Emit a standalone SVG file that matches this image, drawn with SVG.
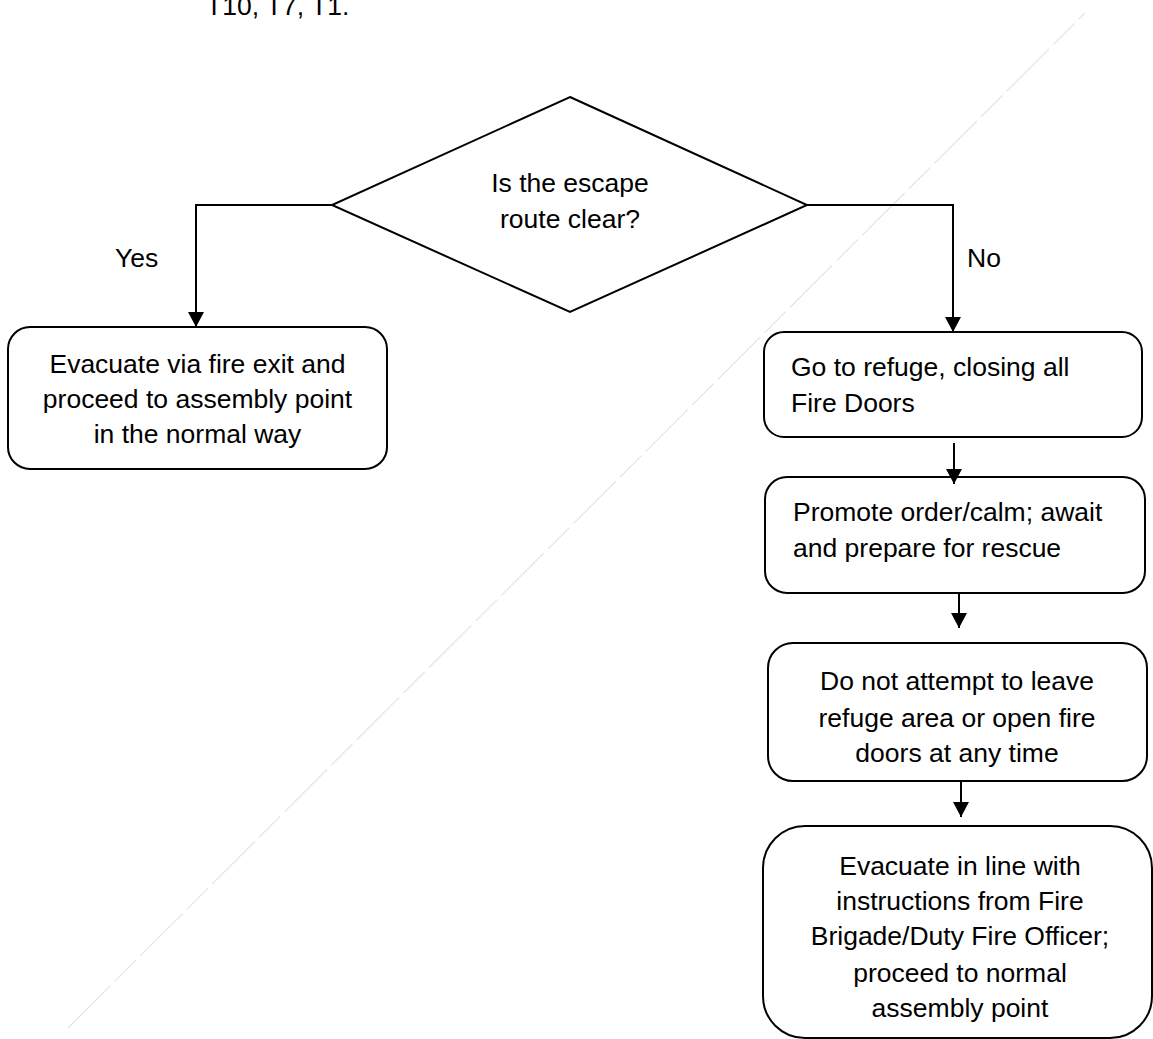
<svg xmlns="http://www.w3.org/2000/svg" width="1153" height="1039" viewBox="0 0 1153 1039">
<style>
text{font-family:"Liberation Sans",Arial,sans-serif;font-size:26.5px;fill:#000}
.c{text-anchor:middle}
.box{fill:#fff;stroke:#000;stroke-width:2}
.conn{fill:none;stroke:#000;stroke-width:2}
</style>
<defs>
<marker id="arr" markerUnits="userSpaceOnUse" markerWidth="15" markerHeight="16" viewBox="0 0 15 16" refX="15" refY="8" orient="auto">
<path d="M0,0 L15,8 L0,16 z" fill="#000"/>
</marker>
</defs>
<rect width="1153" height="1039" fill="#fff"/>
<line x1="68" y1="1028" x2="1085" y2="13" stroke="#e4e4e4" stroke-width="1.2" stroke-dasharray="60 6 30 6"/>
<text x="206" y="15">T10, T7, T1.</text>
<g id="decision">
<polygon class="box" points="570,97 807,205 570,312 332,205"/>
<text class="c" x="570" y="192">Is the escape</text>
<text class="c" x="570" y="228">route clear?</text>
</g>
<g id="evacuate-normal">
<rect class="box" x="8" y="327" width="379" height="142" rx="22"/>
<text class="c" x="197.5" y="373">Evacuate via fire exit and</text>
<text class="c" x="197.5" y="408">proceed to assembly point</text>
<text class="c" x="197.5" y="443">in the normal way</text>
</g>
<g id="go-to-refuge">
<rect class="box" x="764" y="332" width="378" height="105" rx="20"/>
<text x="791" y="376">Go to refuge, closing all</text>
<text x="791" y="412">Fire Doors</text>
</g>
<g id="promote-order">
<rect class="box" x="765" y="477" width="380" height="116" rx="22"/>
<text x="793" y="521">Promote order/calm; await</text>
<text x="793" y="557">and prepare for rescue</text>
</g>
<g id="do-not-leave">
<rect class="box" x="768" y="643" width="379" height="138" rx="25"/>
<text class="c" x="957" y="690">Do not attempt to leave</text>
<text class="c" x="957" y="727">refuge area or open fire</text>
<text class="c" x="957" y="762">doors at any time</text>
</g>
<g id="evacuate-instructions">
<rect class="box" x="763" y="826" width="389" height="212" rx="42"/>
<text class="c" x="960" y="875">Evacuate in line with</text>
<text class="c" x="960" y="910">instructions from Fire</text>
<text class="c" x="960" y="945">Brigade/Duty Fire Officer;</text>
<text class="c" x="960" y="982">proceed to normal</text>
<text class="c" x="960" y="1017">assembly point</text>
</g>
<g id="connectors">
<path class="conn" d="M332,205 H196 V327" marker-end="url(#arr)"/>
<path class="conn" d="M807,205 H953 V332" marker-end="url(#arr)"/>
<path class="conn" d="M954,443 V484" marker-end="url(#arr)"/>
<path class="conn" d="M959,593 V628" marker-end="url(#arr)"/>
<path class="conn" d="M961,781 V817" marker-end="url(#arr)"/>
<text x="115" y="267">Yes</text>
<text x="967" y="267">No</text>
</g>
</svg>
